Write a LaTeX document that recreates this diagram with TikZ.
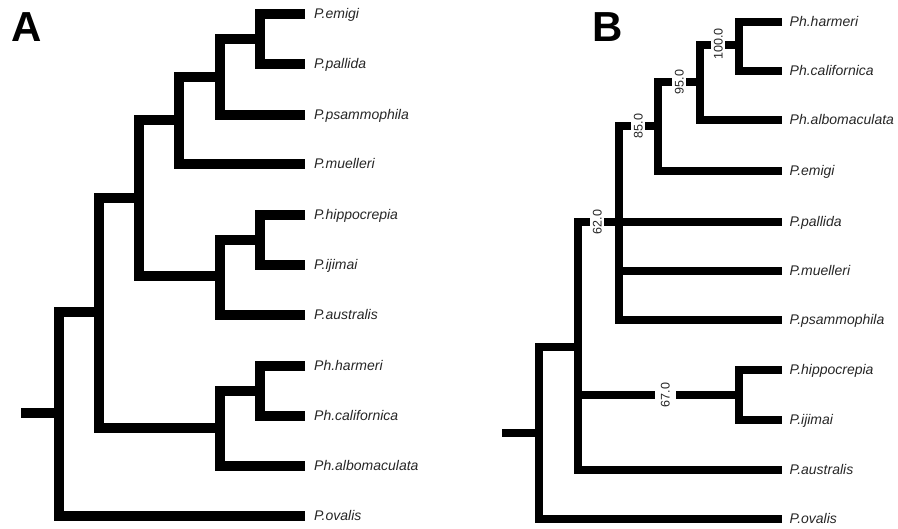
\documentclass[tikz,border=0pt]{standalone}
\usepackage{fontspec}
\setmainfont{Liberation Sans}
\begin{document}
\begin{tikzpicture}[x=1pt,y=-1pt,
  brA/.style={line width=10.5pt, line join=miter, line cap=butt, black},
  brB/.style={line width=8.5pt, line join=miter, line cap=butt, black},
  leafA/.style={anchor=west, inner xsep=9pt, inner ysep=0pt, font=\fontsize{14}{16}\selectfont\itshape, text height=10pt, text depth=0pt, text=black!85},
  leafB/.style={leafA, inner xsep=7.5pt},
  boot/.style={rotate=90, fill=white, inner xsep=1pt, inner ysep=2.5pt, font=\fontsize{12.5}{14}\selectfont, text height=9pt, text depth=0pt, text=black!85},
  panel/.style={anchor=base, inner sep=0pt, font=\fontsize{42}{46}\selectfont\bfseries}
]
\useasboundingbox (0,0) rectangle (898,529);

% ---------------- Panel A ----------------
\node[panel] (labA) at (27,42) {A};
\node[leafA] (Aem) at (305,14)  {P.emigi};
\node[leafA] (Apa) at (305,64)  {P.pallida};
\node[leafA] (Aps) at (305,115) {P.psammophila};
\node[leafA] (Amu) at (305,164) {P.muelleri};
\node[leafA] (Ahi) at (305,215) {P.hippocrepia};
\node[leafA] (Aij) at (305,265) {P.ijimai};
\node[leafA] (Aau) at (305,315) {P.australis};
\node[leafA] (Aha) at (305,366) {Ph.harmeri};
\node[leafA] (Aca) at (305,416) {Ph.californica};
\node[leafA] (Aal) at (305,466) {Ph.albomaculata};
\node[leafA] (Aov) at (305,516) {P.ovalis};

\coordinate (a1) at (260,39);
\coordinate (a2) at (220,77);
\coordinate (a3) at (179,120);
\coordinate (a4) at (260,240);
\coordinate (a5) at (220,276);
\coordinate (a6) at (139,198);
\coordinate (a7) at (260,391);
\coordinate (a8) at (220,428);
\coordinate (a9) at (99,312);
\coordinate (a10) at (59,413);
\coordinate (aroot) at (21,413);

\draw[brA] (Aem.west) -| (a1) |- (Apa.west);
\draw[brA] (a1) -| (a2) |- (Aps.west);
\draw[brA] (a2) -| (a3) |- (Amu.west);
\draw[brA] (Ahi.west) -| (a4) |- (Aij.west);
\draw[brA] (a4) -| (a5) |- (Aau.west);
\draw[brA] (a3) -| (a6) |- (a5);
\draw[brA] (Aha.west) -| (a7) |- (Aca.west);
\draw[brA] (a7) -| (a8) |- (Aal.west);
\draw[brA] (a6) -| (a9) |- (a8);
\draw[brA] (a9) -| (a10) |- (Aov.west);
\draw[brA] (aroot) -- (a10);

% ---------------- Panel B ----------------
\node[panel] (labB) at (608,42) {B};
\node[leafB] (Bha) at (782,22)  {Ph.harmeri};
\node[leafB] (Bca) at (782,71)  {Ph.californica};
\node[leafB] (Bal) at (782,120) {Ph.albomaculata};
\node[leafB] (Bem) at (782,171) {P.emigi};
\node[leafB] (Bpa) at (782,222) {P.pallida};
\node[leafB] (Bmu) at (782,271) {P.muelleri};
\node[leafB] (Bps) at (782,320) {P.psammophila};
\node[leafB] (Bhi) at (782,370) {P.hippocrepia};
\node[leafB] (Bij) at (782,420) {P.ijimai};
\node[leafB] (Bau) at (782,470) {P.australis};
\node[leafB] (Bov) at (782,519) {P.ovalis};

\coordinate (b1) at (739,45);
\coordinate (b2) at (700,82);
\coordinate (b3) at (658,126);
\coordinate (b4) at (619,222);
\coordinate (b5) at (739,395);
\coordinate (b6) at (578,347);
\coordinate (b7) at (539,433);
\coordinate (broot) at (502,433);

\draw[brB] (Bha.west) -| (b1) |- (Bca.west);
\draw[brB] (b1) -| (b2) |- (Bal.west);
\draw[brB] (b2) -| (b3) |- (Bem.west);
\draw[brB] (b3) -| (b4) |- (Bps.west);
\draw[brB] (b4) -- (Bpa.west);
\draw[brB] (b4 |- Bmu.west) -- (Bmu.west);
\draw[brB] (Bhi.west) -| (b5) |- (Bij.west);
\draw[brB] (b4) -| (b6) |- (Bau.west);
\draw[brB] (b6 |- b5) -- (b5);
\draw[brB] (b6) -| (b7) |- (Bov.west);
\draw[brB] (broot) -- (b7);

\node[boot] (s100) at (718,44)  {100.0};
\node[boot] (s95)  at (679,82)  {95.0};
\node[boot] (s85)  at (638,126) {85.0};
\node[boot] (s62)  at (597,222) {62.0};
\node[boot, inner ysep=6pt] (s67) at (665,395) {67.0};
\end{tikzpicture}
\end{document}
